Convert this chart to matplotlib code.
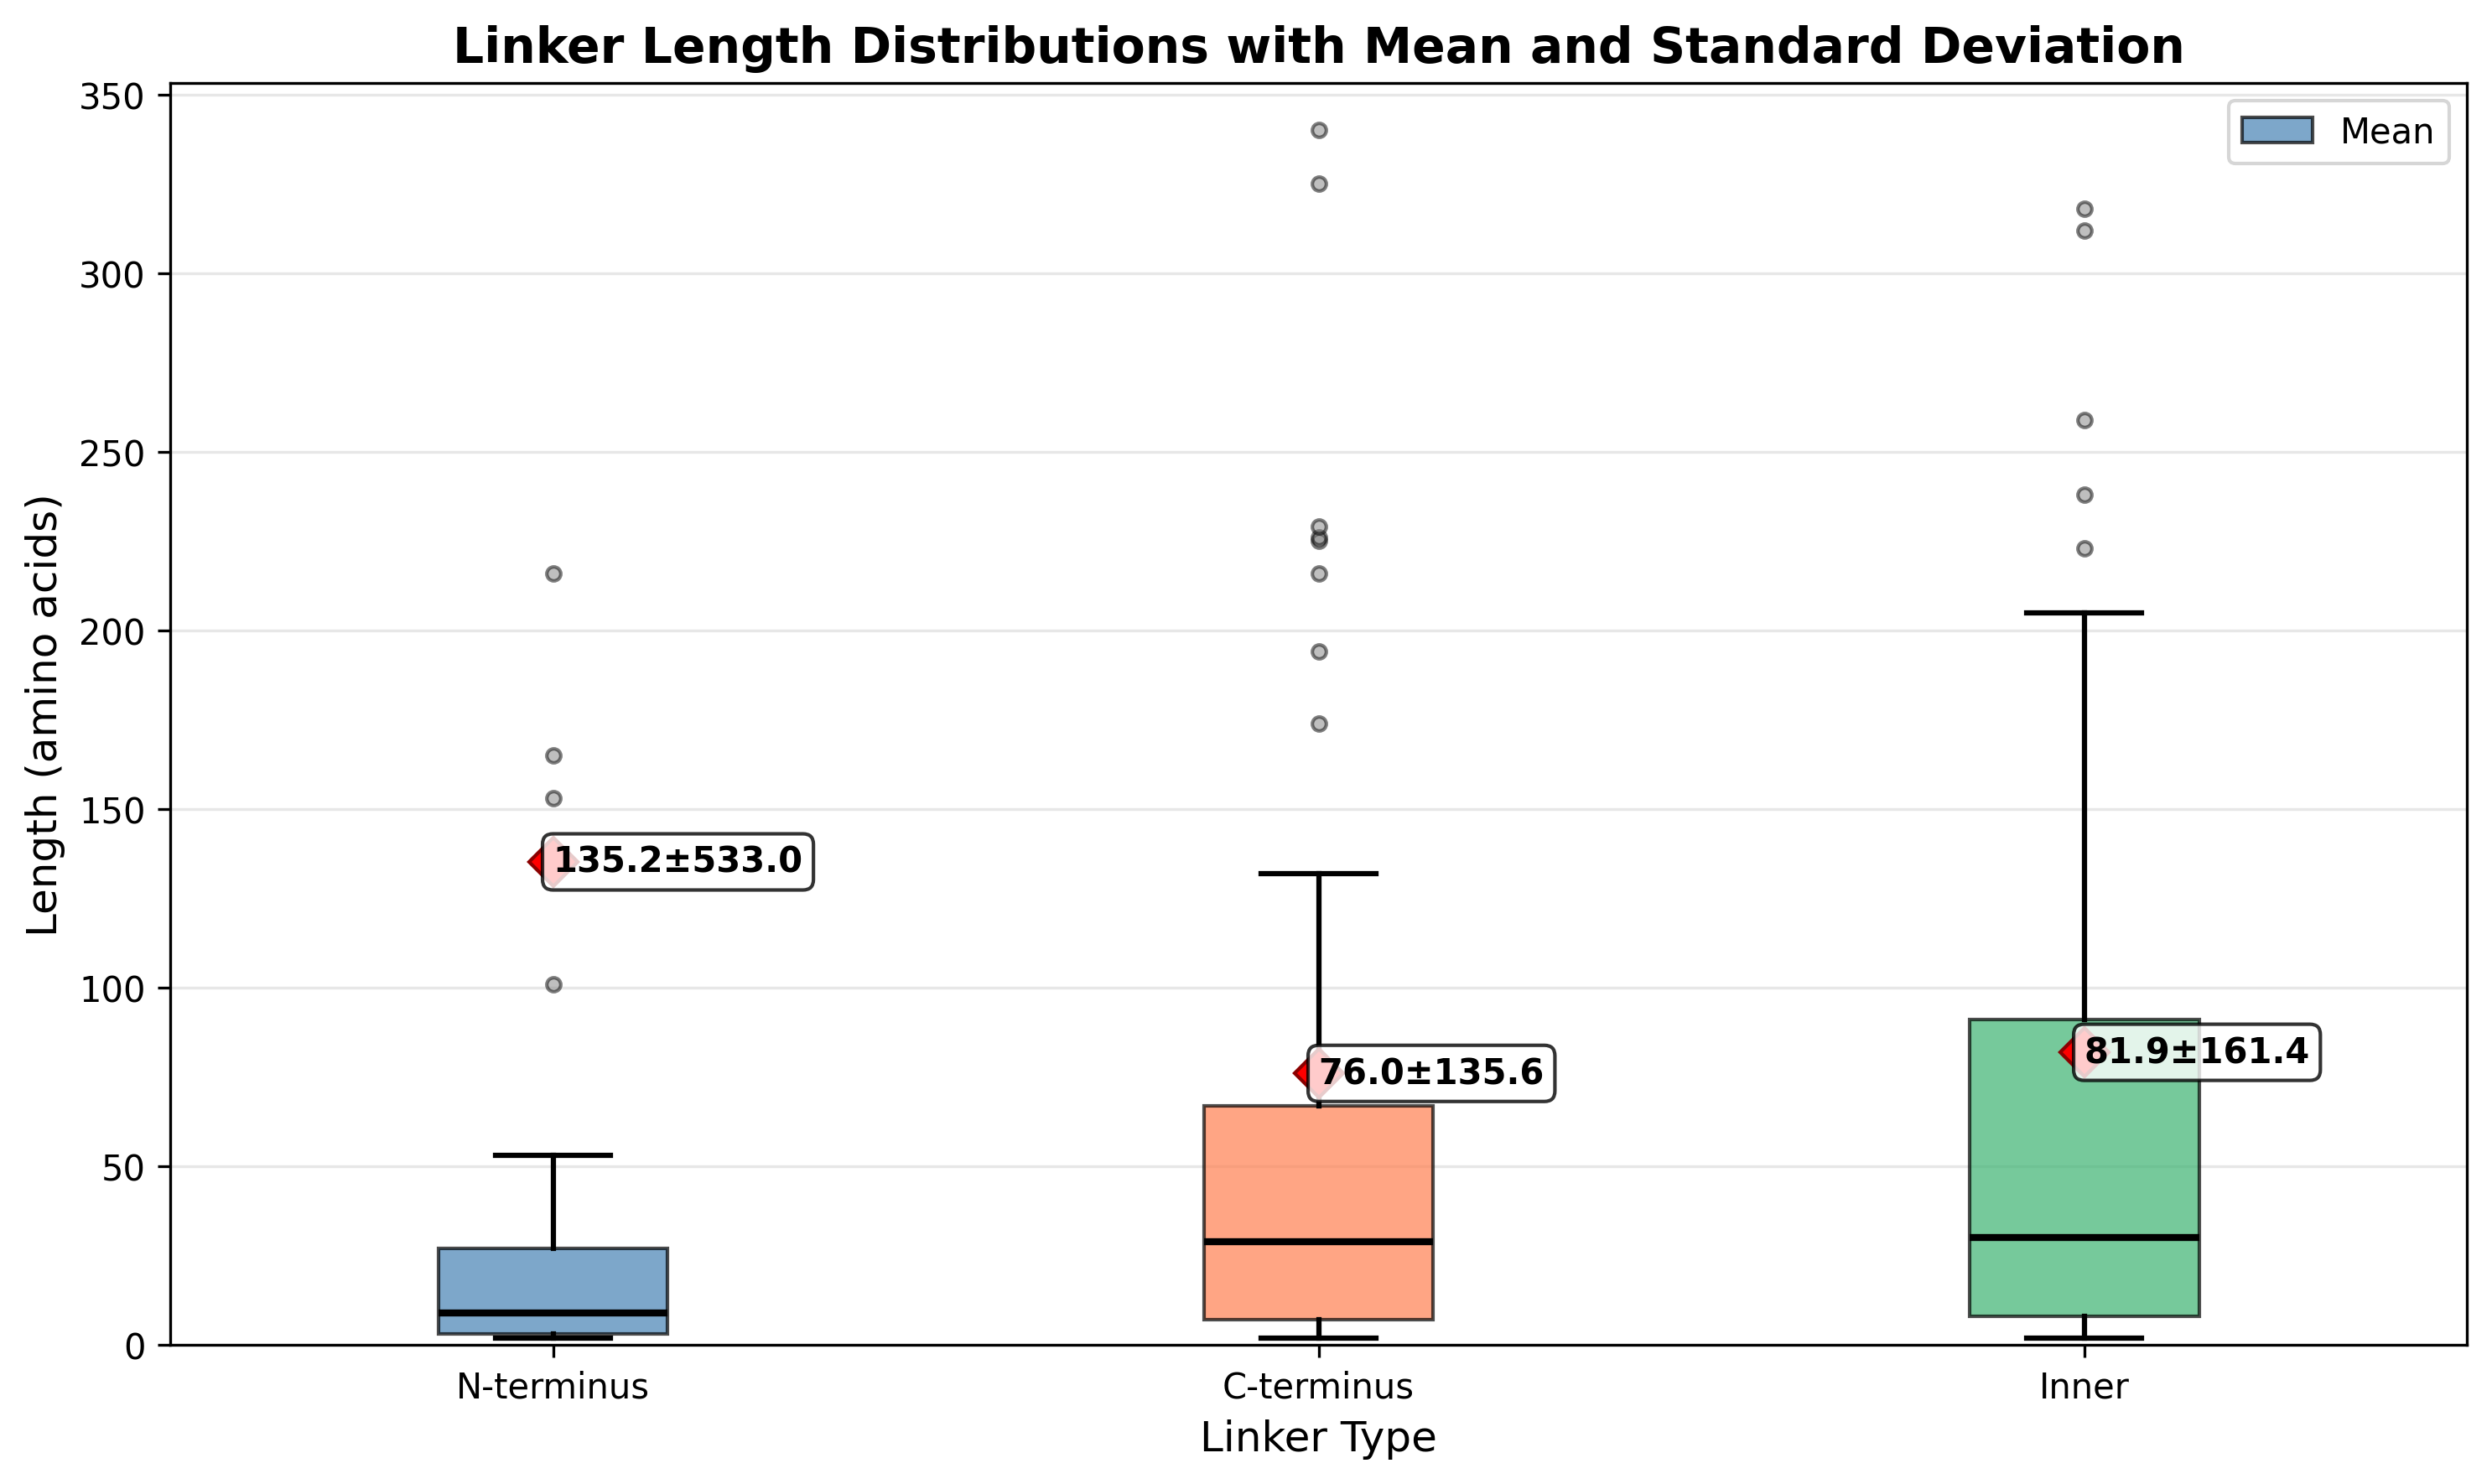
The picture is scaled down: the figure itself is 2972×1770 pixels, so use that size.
import matplotlib
matplotlib.use('Agg')
import matplotlib.pyplot as plt

# values
linker_types = ['N-terminus', 'C-terminus', 'Inner']
q1 = [3, 7, 8]
medians = [9, 29, 30]
q3 = [27, 67, 91]
whisker_low = [2, 2, 2]
whisker_high = [53, 132, 205]
outliers_n = [101, 153, 165, 216]
outliers_c = [174, 194, 216, 225, 226, 229, 325, 340]
outliers_inner = [223, 238, 259, 312, 318]
means = [135.2, 76.0, 81.9]
stds = [533.0, 135.6, 161.4]
box_colors = ['steelblue', 'coral', 'mediumseagreen']

fliers = [outliers_n, outliers_c, outliers_inner]
stats = []
for i in range(len(linker_types)):
    stats.append({'label': linker_types[i], 'q1': q1[i], 'med': medians[i], 'q3': q3[i],
                  'whislo': whisker_low[i], 'whishi': whisker_high[i], 'fliers': fliers[i]})

fig, ax = plt.subplots(figsize=(9.907, 5.903), dpi=300)
fig.subplots_adjust(left=0.0683, right=0.9899, top=0.9435, bottom=0.0937)

positions = [1, 2, 3]
bp = ax.bxp(stats, positions=positions, widths=0.3, patch_artist=True,
            medianprops=dict(color='black', linewidth=2),
            whiskerprops=dict(color='black', linewidth=1.5),
            capprops=dict(color='black', linewidth=1.5),
            flierprops=dict(marker='o', markerfacecolor='gray', markersize=4, alpha=0.5),
            boxprops=dict(linewidth=1))

for patch, color in zip(bp['boxes'], box_colors):
    patch.set_facecolor(color)
    patch.set_edgecolor('black')
    patch.set_alpha(0.7)

# means with std labels
for pos, m, s in zip(positions, means, stds):
    ax.plot(pos, m, marker='D', color='red', markeredgecolor='darkred', markersize=10, zorder=3)
    ax.text(pos, m, f'{m:.1f}±{s:.1f}', ha='left', va='center', fontsize=10, fontweight='bold',
            bbox=dict(boxstyle='round,pad=0.3', facecolor='white', alpha=0.8), zorder=4)

ax.set_xlim(0.5, 3.5)
ax.set_ylim(0, 353.2)
ax.set_title('Linker Length Distributions with Mean and Standard Deviation', fontsize=14, fontweight='bold')
ax.set_xlabel('Linker Type', fontsize=12)
ax.set_ylabel('Length (amino acids)', fontsize=12)
ax.yaxis.grid(True, alpha=0.3)
ax.legend([bp['boxes'][0]], ['Mean'], loc='upper right')

fig.savefig('out.png', dpi=300)
